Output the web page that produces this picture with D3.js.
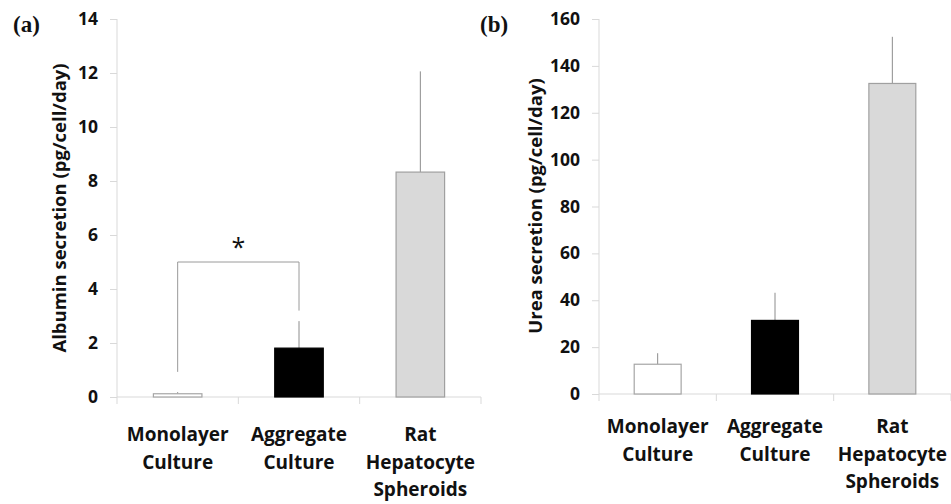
<!DOCTYPE html>
<html>
<head>
  <meta charset="utf-8" />
  <script src="https://cdn.jsdelivr.net/npm/d3@7"></script>
  <style>
    body { margin: 0; background: white; }
    text { font-family: "Open Sans", Lato, sans-serif; font-weight: bold; fill: #111; }
    text.letter { font-family: "Liberation Serif", "DejaVu Serif", serif; }
  </style>
</head>
<body>
  <script>
    // - - - - - DATA - - - - - //
    var categories = [["Monolayer", "Culture"], ["Aggregate", "Culture"], ["Rat", "Hepatocyte", "Spheroids"]];
    var barFills = ["#ffffff", "#000000", "#d9d9d9"];
    var barStrokes = ["#a6a6a6", "#000000", "#a0a0a0"];

    var albumin = [0.12, 1.81, 8.33];
    var albuminErr = [0.06, 1.0, 3.73];
    var albuminTicks = [0, 2, 4, 6, 8, 10, 12, 14];

    var urea = [12.7, 31.4, 132.5];
    var ureaErr = [4.7, 11.8, 19.9];
    var ureaTicks = [0, 20, 40, 60, 80, 100, 120, 140, 160];

    // significance bracket (a): [from, to], height, foot levels
    var sigPair = [0, 1];
    var sigLevel = 5.0;
    var sigFeet = [0.93, 3.2];

    var w = 951, h = 504;
    var svg = d3.select("body").append("svg").attr("width", w).attr("height", h);

    // - - - - - PANEL DRAW - - - - - //
    var drawPanel = function(opt) {
      var x = d3.scaleBand().domain(d3.range(categories.length)).range(opt.xr).padding(0);
      var y = d3.scaleLinear().domain([0, opt.max]).range(opt.yr);
      var bw = x.bandwidth() * 0.4;
      var g = svg.append("g");

      // y axis
      var ya = g.append("g")
        .attr("transform", "translate(" + opt.xr[0] + ",0)")
        .call(d3.axisLeft(y).tickValues(opt.ticks).tickSize(7).tickPadding(12));
      ya.attr("font-family", null).attr("font-size", null);
      ya.select(".domain").attr("stroke", "#d9d9d9").attr("d", "M0," + opt.yr[1] + "V" + opt.yr[0]);
      ya.selectAll(".tick line").attr("stroke", "#d9d9d9");
      ya.selectAll(".tick text").style("font-size", "17.5px").attr("fill", "#111");

      // x axis line and boundary ticks
      g.append("line")
        .attr("x1", opt.xr[0]).attr("x2", opt.xr[1])
        .attr("y1", y(0)).attr("y2", y(0))
        .attr("stroke", "#d9d9d9");
      g.selectAll(".xtick").data(d3.range(categories.length + 1)).enter().append("line")
        .attr("x1", function(d) { return opt.xr[0] + d * x.step(); })
        .attr("x2", function(d) { return opt.xr[0] + d * x.step(); })
        .attr("y1", y(0)).attr("y2", y(0) + 7)
        .attr("stroke", "#d9d9d9");

      // error bars (upper only)
      g.selectAll(".err").data(opt.values).enter().append("line")
        .attr("x1", function(d, i) { return x(i) + x.bandwidth() / 2; })
        .attr("x2", function(d, i) { return x(i) + x.bandwidth() / 2; })
        .attr("y1", function(d) { return y(d); })
        .attr("y2", function(d, i) { return y(d + opt.errs[i]); })
        .attr("stroke", "#8c8c8c");

      // bars
      g.selectAll(".bar").data(opt.values).enter().append("rect")
        .attr("x", function(d, i) { return x(i) + (x.bandwidth() - bw) / 2; })
        .attr("width", bw)
        .attr("y", function(d) { return y(d); })
        .attr("height", function(d) { return y(0) - y(d); })
        .attr("fill", function(d, i) { return barFills[i]; })
        .attr("stroke", function(d, i) { return barStrokes[i]; })
        .attr("stroke-width", 1.2);

      // category labels
      var lab = g.selectAll(".cat").data(categories).enter().append("text")
        .attr("text-anchor", "middle")
        .style("font-size", "19px")
        .attr("x", function(d, i) { return x(i) + x.bandwidth() / 2; })
        .attr("y", opt.labelY);
      lab.selectAll("tspan").data(function(d) { return d; }).enter().append("tspan")
        .attr("x", function() { return d3.select(this.parentNode).attr("x"); })
        .attr("dy", function(d, i) { return i === 0 ? 0 : 27.5; })
        .text(function(d) { return d; });

      // y title
      g.append("text")
        .attr("transform", "translate(" + opt.titleX + "," + opt.titleY + ") rotate(-90)")
        .attr("text-anchor", "middle")
        .style("font-size", "18.5px")
        .text(opt.title);

      // panel letter
      g.append("text")
        .attr("class", "letter")
        .attr("x", opt.letterX).attr("y", 32)
        .style("font-size", "23px")
        .text(opt.letter);

      return { x: x, y: y, g: g };
    };

    var pa = drawPanel({
      xr: [117, 481], yr: [397, 19], max: 14, ticks: albuminTicks,
      values: albumin, errs: albuminErr, labelY: 441,
      title: "Albumin secretion (pg/cell/day)", titleX: 66, titleY: 208,
      letter: "(a)", letterX: 13
    });

    // significance bracket
    var cx = function(i) { return pa.x(i) + pa.x.bandwidth() / 2; };
    pa.g.append("path")
      .attr("d", "M" + cx(sigPair[0]) + "," + pa.y(sigFeet[0]) +
                 "V" + pa.y(sigLevel) +
                 "H" + cx(sigPair[1]) +
                 "V" + pa.y(sigFeet[1]))
      .attr("fill", "none")
      .attr("stroke", "#9a9a9a");
    pa.g.append("text")
      .attr("x", (cx(sigPair[0]) + cx(sigPair[1])) / 2)
      .attr("y", pa.y(sigLevel) - 6)
      .attr("text-anchor", "middle")
      .style("font-size", "25px")
      .style("font-weight", "normal")
      .text("*");

    drawPanel({
      xr: [599, 951], yr: [394, 19], max: 160, ticks: ureaTicks,
      values: urea, errs: ureaErr, labelY: 433,
      title: "Urea secretion (pg/cell/day)", titleX: 542, titleY: 206,
      letter: "(b)", letterX: 480
    });
  </script>
</body>
</html>
